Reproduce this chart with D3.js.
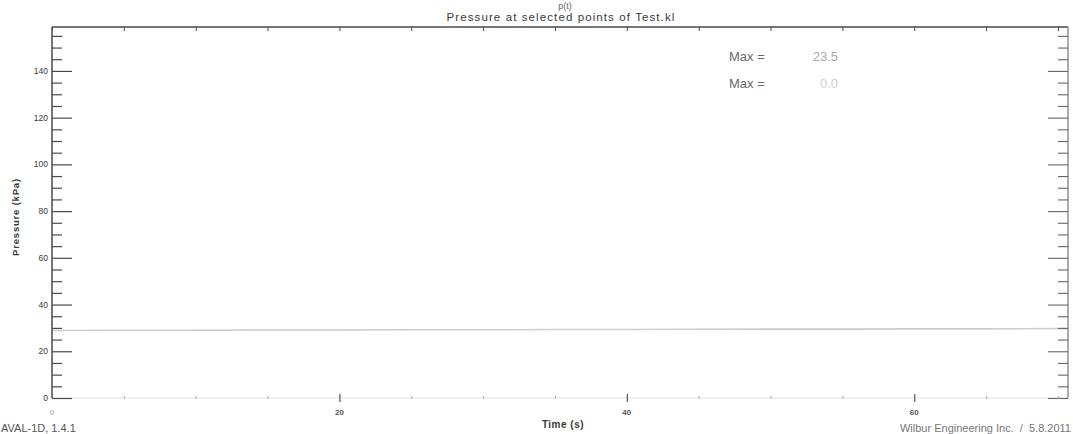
<!DOCTYPE html>
<html>
<head>
<meta charset="utf-8">
<script src="https://cdn.jsdelivr.net/npm/d3@7"></script>
<style>
  html, body { margin: 0; padding: 0; background: #fff; }
  svg { display: block; }
  text { font-family: "Liberation Sans", "DejaVu Sans", sans-serif; }
</style>
</head>
<body>
<script>
// Time axis (s) and pressure readings (kPa) at two selected points
const timeS = [0, 5, 10, 15, 20, 25, 30, 35, 40, 45, 50, 55, 60, 65, 70.7];
const pressurePoint1 = [28.9, 29.0, 29.0, 29.1, 29.1, 29.2, 29.2, 29.3, 29.3, 29.4, 29.5, 29.5, 29.6, 29.6, 29.7];
const pressurePoint2 = [0, 0, 0, 0, 0, 0, 0, 0, 0, 0, 0, 0, 0, 0, 0];
const maxLabels = ["23.5", "0.0"];

const xMajorTicks = [0, 20, 40, 60];
const xTickLabels = ["0", "20", "40", "60"];
const yMajorTicks = [0, 20, 40, 60, 80, 100, 120, 140];
const yTickLabels = ["0", "20", "40", "60", "80", "100", "120", "140"];

const W = 1073, H = 434;
const plotL = 52, plotR = 1068, plotT = 27, plotB = 398;

const svg = d3.select("body").append("svg").attr("width", W).attr("height", H);

const x = d3.scaleLinear().domain([0, 70.7]).range([plotL, plotR]);
const y = d3.scaleLinear().domain([0, 158.8]).range([plotB, plotT]);

const axisColor = "#4a4a4a";
const textColor = "#3a3a3a";

// Data lines
const line = d3.line().x((d, i) => x(timeS[i])).y(d => y(d));
svg.append("path").datum(pressurePoint2).attr("d", line)
  .attr("fill", "none").attr("stroke", "#e4e4e4").attr("stroke-width", 1.2);
svg.append("path").datum(pressurePoint1).attr("d", line)
  .attr("fill", "none").attr("stroke", "#cdcdcd").attr("stroke-width", 1.6);

// Frame: left, top and right borders
svg.append("line").attr("x1", plotL).attr("x2", plotL).attr("y1", plotT).attr("y2", plotB)
  .attr("stroke", axisColor).attr("stroke-width", 1.5);
svg.append("line").attr("x1", plotL).attr("x2", plotR).attr("y1", plotT).attr("y2", plotT)
  .attr("stroke", axisColor).attr("stroke-width", 1.5);
svg.append("line").attr("x1", plotR).attr("x2", plotR).attr("y1", plotT).attr("y2", plotB)
  .attr("stroke", "#777").attr("stroke-width", 1.2);

// Y axes (left and right), ticks pointing inwards
const yMinor = d3.range(0, 158.8, 5).filter(v => v % 20 !== 0);
const yLeft = d3.axisRight(y).tickValues(yMajorTicks).tickSize(20).tickFormat("");
const yLeftMinor = d3.axisRight(y).tickValues(yMinor).tickSize(10).tickFormat("");
[yLeft, yLeftMinor].forEach(ax => {
  const g = svg.append("g").attr("transform", `translate(${plotL},0)`).call(ax);
  g.select(".domain").remove();
  g.selectAll(".tick line").attr("stroke", axisColor).attr("stroke-width", 1.2);
});
const yRight = d3.axisLeft(y).tickValues(yMajorTicks).tickSize(20).tickFormat("");
const yRightMinor = d3.axisLeft(y).tickValues(yMinor).tickSize(10).tickFormat("");
[yRight, yRightMinor].forEach(ax => {
  const g = svg.append("g").attr("transform", `translate(${plotR},0)`).call(ax);
  g.select(".domain").remove();
  g.selectAll(".tick line").attr("stroke", "#666").attr("stroke-width", 1.1);
});
// Y tick labels
svg.append("g").selectAll("text").data(yMajorTicks).join("text")
  .attr("x", plotL - 4).attr("y", d => y(d) + 3)
  .attr("text-anchor", "end").attr("font-size", 8.5).attr("fill", textColor)
  .text((d, i) => yTickLabels[i]);

// X axes: small ticks along top and bottom
const xMinor = d3.range(5, 70.7, 5).filter(v => v % 20 !== 0);
const xTop = d3.axisBottom(x).tickValues(xMajorTicks.concat(xMinor)).tickSize(4).tickFormat("");
const gTop = svg.append("g").attr("transform", `translate(0,${plotT})`).call(xTop);
gTop.select(".domain").remove();
gTop.selectAll(".tick line").attr("stroke", axisColor).attr("stroke-width", 1);

const xBottom = d3.axisTop(x).tickValues(xMajorTicks.filter(v => v > 0)).tickSize(8).tickFormat("");
const gBot = svg.append("g").attr("transform", `translate(0,${plotB + 4})`).call(xBottom);
gBot.select(".domain").remove();
gBot.selectAll(".tick line").attr("stroke", "#555").attr("stroke-width", 1.2);
const xBottomMinor = d3.axisTop(x).tickValues(xMinor).tickSize(3).tickFormat("");
const gBotMinor = svg.append("g").attr("transform", `translate(0,${plotB + 1})`).call(xBottomMinor);
gBotMinor.select(".domain").remove();
gBotMinor.selectAll(".tick line").attr("stroke", "#aaa").attr("stroke-width", 1);

// X tick labels
svg.append("g").selectAll("text").data(xMajorTicks).join("text")
  .attr("x", d => x(d)).attr("y", 415)
  .attr("text-anchor", "middle").attr("font-size", 8).attr("font-weight", "bold")
  .attr("fill", (d, i) => i === 0 ? "#bbb" : "#555")
  .text((d, i) => xTickLabels[i]);

// Titles
svg.append("text").attr("x", 565).attr("y", 9).attr("text-anchor", "middle")
  .attr("font-size", 9).attr("fill", "#666").text("p(t)");
svg.append("text").attr("x", 561).attr("y", 21).attr("text-anchor", "middle")
  .attr("font-size", 11.5).attr("fill", textColor).attr("letter-spacing", 1.1)
  .text("Pressure at selected points of Test.kl");
svg.append("text").attr("x", 563).attr("y", 428).attr("text-anchor", "middle")
  .attr("font-size", 10).attr("font-weight", "bold").attr("fill", textColor)
  .attr("letter-spacing", 0.5).text("Time (s)");
svg.append("text")
  .attr("transform", "translate(19,217) rotate(-90)")
  .attr("text-anchor", "middle").attr("font-size", 9.5).attr("font-weight", "bold")
  .attr("letter-spacing", 0.8).attr("fill", textColor).text("Pressure (kPa)");

// Max annotations
const maxRows = [61, 88];
maxRows.forEach((yy, i) => {
  svg.append("text").attr("x", 729).attr("y", yy).attr("font-size", 13)
    .attr("fill", "#6a6a6a").text("Max =");
  svg.append("text").attr("x", 838).attr("y", yy).attr("text-anchor", "end")
    .attr("font-size", 13).attr("fill", i === 0 ? "#aaa" : "#cfcfcf").text(maxLabels[i]);
});

// Footer texts
svg.append("text").attr("x", 1).attr("y", 432).attr("font-size", 11)
  .attr("fill", "#555").text("AVAL-1D, 1.4.1");
svg.append("text").attr("x", 1071).attr("y", 432).attr("text-anchor", "end").attr("font-size", 11)
  .attr("fill", "#777").attr("xml:space", "preserve").text("Wilbur Engineering Inc.  /  5.8.2011");
</script>
</body>
</html>
